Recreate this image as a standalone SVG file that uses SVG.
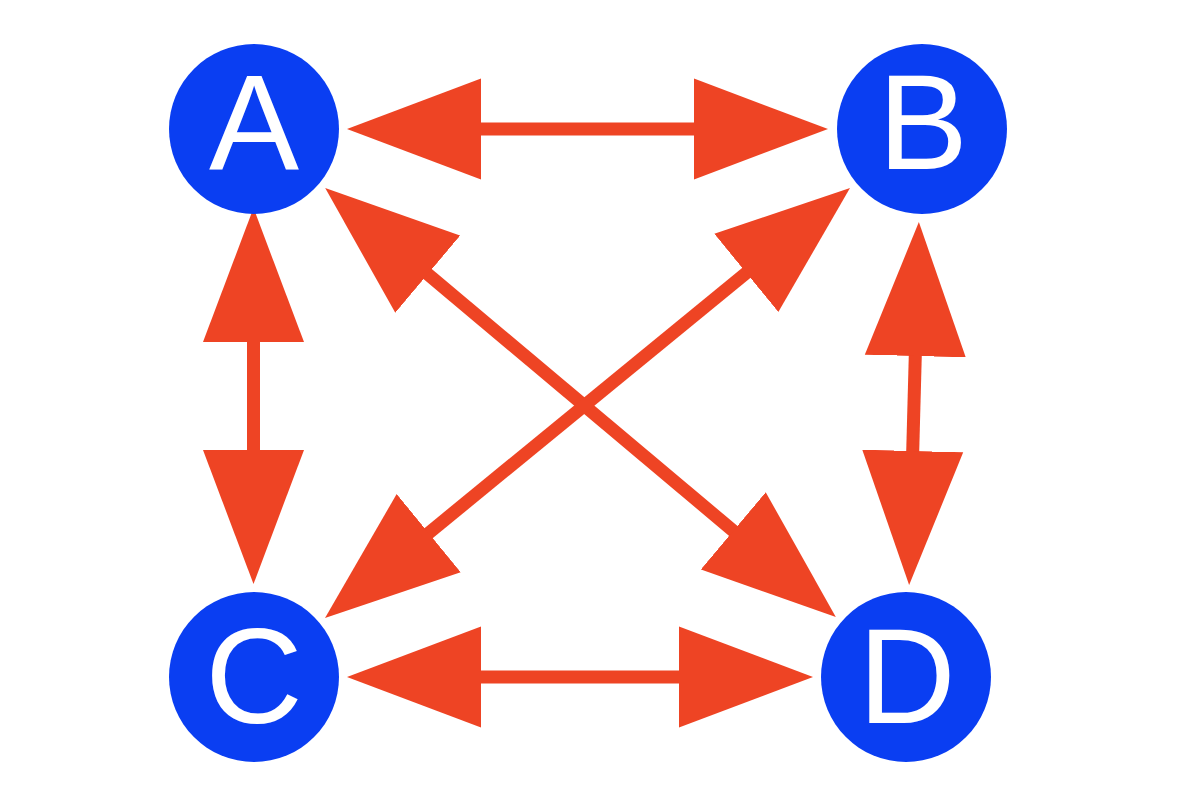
<svg xmlns="http://www.w3.org/2000/svg" width="1200" height="798" viewBox="0 0 1200 798">
  <style>
    .node { fill: #0a3ef2; }
    .label { fill: #ffffff; font-family: "Liberation Sans", Arial, sans-serif; font-size: 135px; text-anchor: middle; }
    .edge { stroke: #ee4424; stroke-width: 13; fill: none; marker-start: url(#head); marker-end: url(#head); }
  </style>
  <defs>
    <marker id="head" markerUnits="userSpaceOnUse" viewBox="0 -51 135 102" markerWidth="135" markerHeight="102" refX="1" refY="0" orient="auto-start-reverse">
      <path d="M0,-50.5 L134,0 L0,50.5 Z" fill="#ee4424"/>
    </marker>
  </defs>
  <rect width="1200" height="798" fill="#ffffff"/>
  <g id="connectors">
    <line class="edge" x1="480" y1="129" x2="695" y2="129"/>
    <line class="edge" x1="480" y1="677" x2="680" y2="677"/>
    <line class="edge" x1="253.5" y1="341" x2="253.5" y2="451"/>
    <line class="edge" x1="915.3" y1="355" x2="912.7" y2="452"/>
    <line class="edge" x1="427" y1="273.5" x2="734" y2="531.5"/>
    <line class="edge" x1="747.1" y1="272.3" x2="427.9" y2="533.7"/>
  </g>
  <g id="node-A">
    <circle class="node" cx="254" cy="129" r="85"/>
    <text class="label" x="254" y="169">A</text>
  </g>
  <g id="node-B">
    <circle class="node" cx="922" cy="129" r="85"/>
    <text class="label" x="923" y="169">B</text>
  </g>
  <g id="node-C">
    <circle class="node" cx="254" cy="677" r="85"/>
    <text class="label" x="254" y="723">C</text>
  </g>
  <g id="node-D">
    <circle class="node" cx="906" cy="677" r="85"/>
    <text class="label" x="907" y="723">D</text>
  </g>
</svg>
